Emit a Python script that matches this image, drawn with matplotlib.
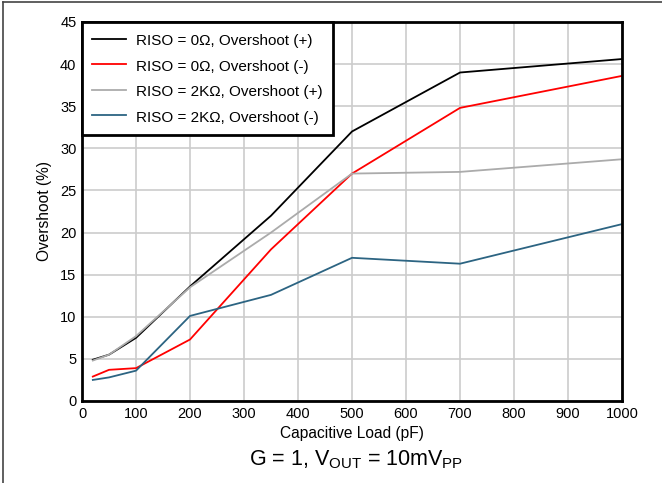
import matplotlib
matplotlib.use('Agg')
import matplotlib.pyplot as plt
from matplotlib.lines import Line2D

plt.rcParams['font.family'] = ['Liberation Sans', 'DejaVu Sans']
plt.rcParams['mathtext.fontset'] = 'custom'
plt.rcParams['mathtext.rm'] = 'Liberation Sans'

# capacitive load (pF)
cap_load = [20, 50, 100, 200, 350, 500, 700, 1000]

# overshoot (%)
riso0_pos = [4.9, 5.5, 7.5, 13.6, 22.0, 32.0, 39.0, 40.6]
riso0_neg = [2.9, 3.7, 3.9, 7.3, 18.0, 27.0, 34.8, 38.6]
riso2k_pos = [4.8, 5.5, 7.7, 13.5, 20.0, 27.0, 27.2, 28.7]
riso2k_neg = [2.5, 2.8, 3.6, 10.1, 12.6, 17.0, 16.3, 21.0]

labels = [
    'RISO = 0Ω, Overshoot (+)',
    'RISO = 0Ω, Overshoot (-)',
    'RISO = 2KΩ, Overshoot (+)',
    'RISO = 2KΩ, Overshoot (-)',
]
colors = ['#000000', '#ff0000', '#ababab', '#2c6482']

x_ticks = list(range(0, 1001, 100))
y_ticks = list(range(0, 46, 5))

fig = plt.figure(figsize=(6.62, 4.83), dpi=100)
ax = fig.add_axes([0.1239, 0.1698, 0.8157, 0.7847])

series = [riso0_pos, riso0_neg, riso2k_pos, riso2k_neg]
for ys, lab, col in zip(series, labels, colors):
    ax.plot(cap_load, ys, color=col, linewidth=1.3, label=lab)

ax.set_xlim(0, 1000)
ax.set_ylim(0, 45)
ax.set_xticks(x_ticks)
ax.set_yticks(y_ticks)
ax.grid(True, color='#cccccc', linewidth=1.2)
ax.set_axisbelow(True)
ax.tick_params(length=0, labelsize=10.5, pad=4)
for sp in ax.spines.values():
    sp.set_linewidth(2)
    sp.set_color('black')

ax.set_xlabel('Capacitive Load (pF)', fontsize=11.2, labelpad=4)
ax.set_ylabel('Overshoot (%)', fontsize=11.2, labelpad=6)

leg = ax.legend(loc='upper left', borderaxespad=0, fancybox=False,
                edgecolor='black', framealpha=1, fontsize=11,
                handlelength=2.2, handleheight=1.3, handletextpad=0.7,
                labelspacing=0.58, borderpad=0.65)
leg.get_frame().set_linewidth(2)

fig.text(0.538, 0.049, r'G = 1, V$_{\mathregular{OUT}}$ = 10mV$_{\mathregular{PP}}$',
         ha='center', va='center', fontsize=15.5)

# outer frame (top and left edges)
fig.add_artist(Line2D([0.004, 1], [0.996, 0.996], color='#444444', linewidth=1.2,
                      transform=fig.transFigure))
fig.add_artist(Line2D([0.004, 0.004], [0, 0.996], color='#444444', linewidth=1.2,
                      transform=fig.transFigure))

fig.savefig('out.png', dpi=100)
